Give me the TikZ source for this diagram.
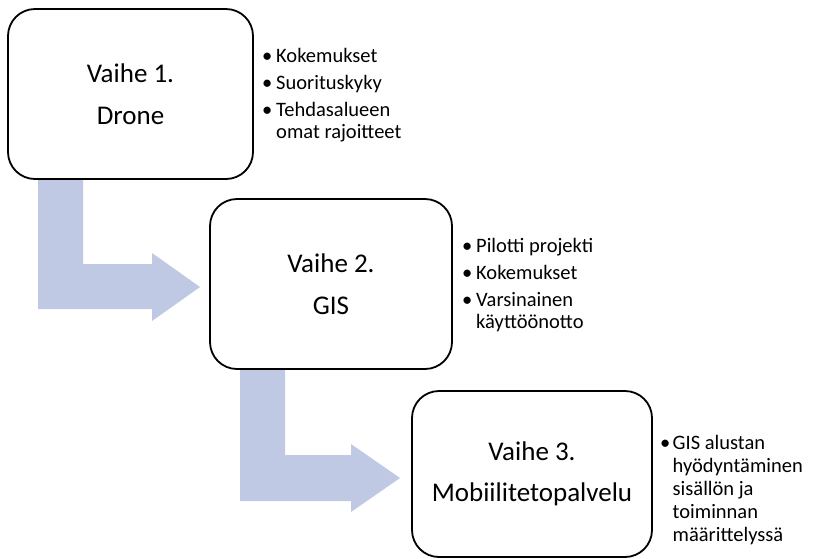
\documentclass[tikz,border=0pt]{standalone}
\usepackage{fontspec}
\setmainfont{Carlito}
\definecolor{flowfill}{RGB}{191,201,228}
% bullet mark followed by a fixed gap before the item text
\newcommand{\bmark}[1][14pt]{\makebox[#1][l]{\textbullet}}
\tikzset{
  stagebox/.style={draw=black, line width=1.8pt, fill=white, rounded corners=27pt,
    align=center, inner sep=0pt, font=\fontsize{27}{41.5}\selectfont},
  notes/.style={anchor=base west, inner sep=0pt, align=left,
    font=\fontsize{20.5}{22.5}\selectfont},
  flowarrow/.style={fill=flowfill, draw=none}
}
\begin{document}
\begin{tikzpicture}[x=1pt, y=-1pt]
\useasboundingbox (0,0) rectangle (813,558);

% bent block arrows between the stages
\fill[flowarrow] (38,170) -- (83,170) -- (83,264) -- (152,264) -- (152,253)
  -- (200,287) -- (152,321) -- (152,309) -- (38,309) -- cycle;
\fill[flowarrow] (240,360) -- (285,360) -- (285,455) -- (351,455) -- (351,444)
  -- (400,478) -- (351,512) -- (351,501) -- (240,501) -- cycle;

% stage boxes
\node[stagebox, minimum width=245pt, minimum height=170pt] (s1) at (130.5,94)
  {Vaihe 1.\\Drone};
\node[stagebox, minimum width=242pt, minimum height=170pt] (s2) at (331,284)
  {Vaihe 2.\\GIS};
\node[stagebox, minimum width=240pt, minimum height=166pt] (s3) at (532,474)
  {Vaihe 3.\\Mobiilitetopalvelu};

% notes beside each stage
\node[notes] (n1) at (262,62) {\begin{tabular}[t]{@{}l@{}}
  \bmark Kokemukset\\[4.5pt]
  \bmark Suorituskyky\\[4.5pt]
  \bmark Tehdasalueen\\
  \hspace{14pt}omat rajoitteet
\end{tabular}};
\node[notes] (n2) at (462,252) {\begin{tabular}[t]{@{}l@{}}
  \bmark Pilotti projekti\\[4.5pt]
  \bmark Kokemukset\\[4.5pt]
  \bmark Varsinainen\\
  \hspace{14pt}käyttöönotto
\end{tabular}};
\node[notes, font=\fontsize{20.5}{23}\selectfont] (n3) at (660,449) {\begin{tabular}[t]{@{}l@{}}
  \bmark[12.5pt]GIS alustan\\
  \hspace{12.5pt}hyödyntäminen\\
  \hspace{12.5pt}sisällön ja\\
  \hspace{12.5pt}toiminnan\\
  \hspace{12.5pt}määrittelyssä
\end{tabular}};
\end{tikzpicture}
\end{document}
